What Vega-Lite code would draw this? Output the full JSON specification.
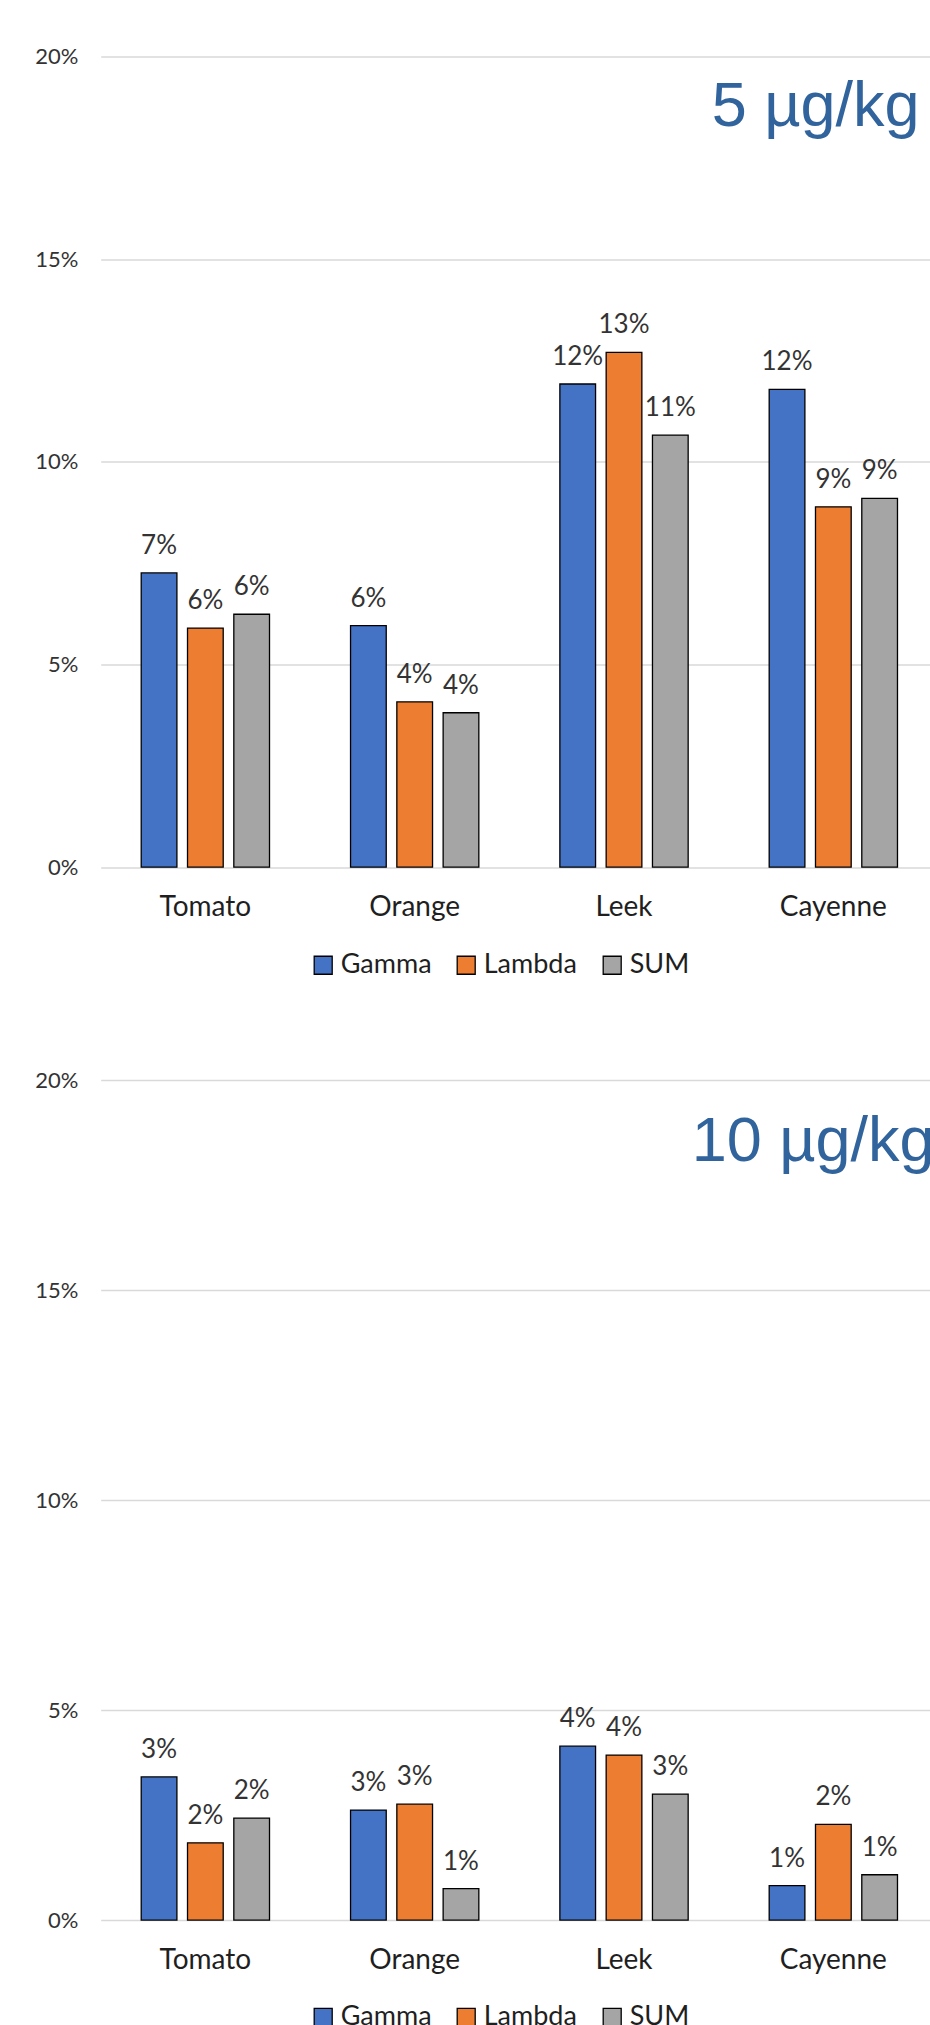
{
  "$schema": "https://vega.github.io/schema/vega-lite/v6.json",
  "background": "white",
  "padding": {"left": 34.7, "top": 45.5, "right": 0, "bottom": 0},
  "datasets": {
    "d": [
      {"dose": "5 µg/kg", "crop": "Tomato", "series": "Gamma", "value": 0.0726},
      {"dose": "5 µg/kg", "crop": "Tomato", "series": "Lambda", "value": 0.0590},
      {"dose": "5 µg/kg", "crop": "Tomato", "series": "SUM", "value": 0.0624},
      {"dose": "5 µg/kg", "crop": "Orange", "series": "Gamma", "value": 0.0596},
      {"dose": "5 µg/kg", "crop": "Orange", "series": "Lambda", "value": 0.0408},
      {"dose": "5 µg/kg", "crop": "Orange", "series": "SUM", "value": 0.0381},
      {"dose": "5 µg/kg", "crop": "Leek", "series": "Gamma", "value": 0.1192},
      {"dose": "5 µg/kg", "crop": "Leek", "series": "Lambda", "value": 0.1270},
      {"dose": "5 µg/kg", "crop": "Leek", "series": "SUM", "value": 0.1066},
      {"dose": "5 µg/kg", "crop": "Cayenne", "series": "Gamma", "value": 0.1179},
      {"dose": "5 µg/kg", "crop": "Cayenne", "series": "Lambda", "value": 0.0889},
      {"dose": "5 µg/kg", "crop": "Cayenne", "series": "SUM", "value": 0.0910},
      {"dose": "10 µg/kg", "crop": "Tomato", "series": "Gamma", "value": 0.0341},
      {"dose": "10 µg/kg", "crop": "Tomato", "series": "Lambda", "value": 0.0184},
      {"dose": "10 µg/kg", "crop": "Tomato", "series": "SUM", "value": 0.0243},
      {"dose": "10 µg/kg", "crop": "Orange", "series": "Gamma", "value": 0.0262},
      {"dose": "10 µg/kg", "crop": "Orange", "series": "Lambda", "value": 0.0276},
      {"dose": "10 µg/kg", "crop": "Orange", "series": "SUM", "value": 0.0075},
      {"dose": "10 µg/kg", "crop": "Leek", "series": "Gamma", "value": 0.0414},
      {"dose": "10 µg/kg", "crop": "Leek", "series": "Lambda", "value": 0.0393},
      {"dose": "10 µg/kg", "crop": "Leek", "series": "SUM", "value": 0.0300},
      {"dose": "10 µg/kg", "crop": "Cayenne", "series": "Gamma", "value": 0.0082},
      {"dose": "10 µg/kg", "crop": "Cayenne", "series": "Lambda", "value": 0.0228},
      {"dose": "10 µg/kg", "crop": "Cayenne", "series": "SUM", "value": 0.0108}
    ]
  },
  "config": {
    "view": {"stroke": null},
    "axisY": {
      "grid": true, "gridColor": "#D9D9D9", "gridWidth": 1.5,
      "domain": false, "ticks": false, "tickSize": 0,
      "labelFont": "Lato", "labelFontSize": 22, "labelColor": "#333333", "labelPadding": 22.7
    },
    "axisX": {
      "grid": false, "domain": false, "ticks": false, "tickSize": 0,
      "labelFont": "Lato", "labelFontSize": 28, "labelColor": "#1F1F1F",
      "labelBaseline": "alphabetic", "labelPadding": 48, "labelAngle": 0
    },
    "legend": {
      "symbolType": "square", "symbolSize": 324, "symbolStrokeColor": "black", "symbolStrokeWidth": 1.3, "symbolOpacity": 1,
      "labelFont": "Lato", "labelFontSize": 27, "labelColor": "#1F1F1F",
      "columnPadding": 21, "labelOffset": 4, "padding": 0
    },
    "title": {"font": "Liberation Sans", "fontSize": 63, "fontWeight": "normal", "color": "#31649C", "anchor": "start", "frame": "group", "baseline": "alphabetic", "offset": 0}
  },
  "bounds": "flush",
  "spacing": 212.6,
  "resolve": {"scale": {"color": "independent"}, "legend": {"color": "independent"}},
  "vconcat": [
    {
      "data": {"name": "d"},
      "transform": [{"filter": {"field": "dose", "equal": "5 µg/kg"}}],
      "width": 837.3,
      "height": 810.7,
      "title": {"text": "5 µg/kg", "dx": 611, "dy": 97},
      "encoding": {
        "x": {"field": "crop", "type": "nominal", "sort": ["Tomato", "Orange", "Leek", "Cayenne"], "scale": {"paddingInner": 0, "paddingOuter": 0}, "axis": {"title": null}},
        "xOffset": {"field": "series", "type": "nominal", "sort": ["Gamma", "Lambda", "SUM"], "scale": {"paddingInner": 0.229, "paddingOuter": 0.875}},
        "y": {"field": "value", "type": "quantitative", "scale": {"domain": [0, 0.2], "nice": false}, "axis": {"title": null, "values": [0, 0.05, 0.1, 0.15, 0.2], "format": ".0%"}}
      },
      "layer": [
        {
          "mark": {"type": "bar", "stroke": "black", "strokeWidth": 1.3},
          "encoding": {
            "color": {"field": "series", "type": "nominal", "sort": ["Gamma", "Lambda", "SUM"],
              "scale": {"domain": ["Gamma", "Lambda", "SUM"], "range": ["#4472C4", "#ED7D31", "#A5A5A5"]},
              "legend": {"title": null, "orient": "none", "direction": "horizontal", "legendX": 209, "legendY": 895}}
          }
        },
        {
          "mark": {"type": "text", "baseline": "alphabetic", "dy": -19, "font": "Lato", "fontSize": 26, "color": "#333333"},
          "encoding": {"text": {"field": "value", "type": "quantitative", "format": ".0%"}}
        }
      ]
    },
    {
      "data": {"name": "d"},
      "transform": [{"filter": {"field": "dose", "equal": "10 µg/kg"}}],
      "width": 837.3,
      "height": 840,
      "title": {"text": "10 µg/kg", "dx": 591, "dy": 108.4},
      "encoding": {
        "x": {"field": "crop", "type": "nominal", "sort": ["Tomato", "Orange", "Leek", "Cayenne"], "scale": {"paddingInner": 0, "paddingOuter": 0}, "axis": {"title": null}},
        "xOffset": {"field": "series", "type": "nominal", "sort": ["Gamma", "Lambda", "SUM"], "scale": {"paddingInner": 0.229, "paddingOuter": 0.875}},
        "y": {"field": "value", "type": "quantitative", "scale": {"domain": [0, 0.2], "nice": false}, "axis": {"title": null, "values": [0, 0.05, 0.1, 0.15, 0.2], "format": ".0%"}}
      },
      "layer": [
        {
          "mark": {"type": "bar", "stroke": "black", "strokeWidth": 1.3},
          "encoding": {
            "color": {"field": "series", "type": "nominal", "sort": ["Gamma", "Lambda", "SUM"],
              "scale": {"domain": ["Gamma", "Lambda", "SUM"], "range": ["#4472C4", "#ED7D31", "#A5A5A5"]},
              "legend": {"title": null, "orient": "none", "direction": "horizontal", "legendX": 209, "legendY": 923.5}}
          }
        },
        {
          "mark": {"type": "text", "baseline": "alphabetic", "dy": -19, "font": "Lato", "fontSize": 26, "color": "#333333"},
          "encoding": {"text": {"field": "value", "type": "quantitative", "format": ".0%"}}
        }
      ]
    }
  ]
}
